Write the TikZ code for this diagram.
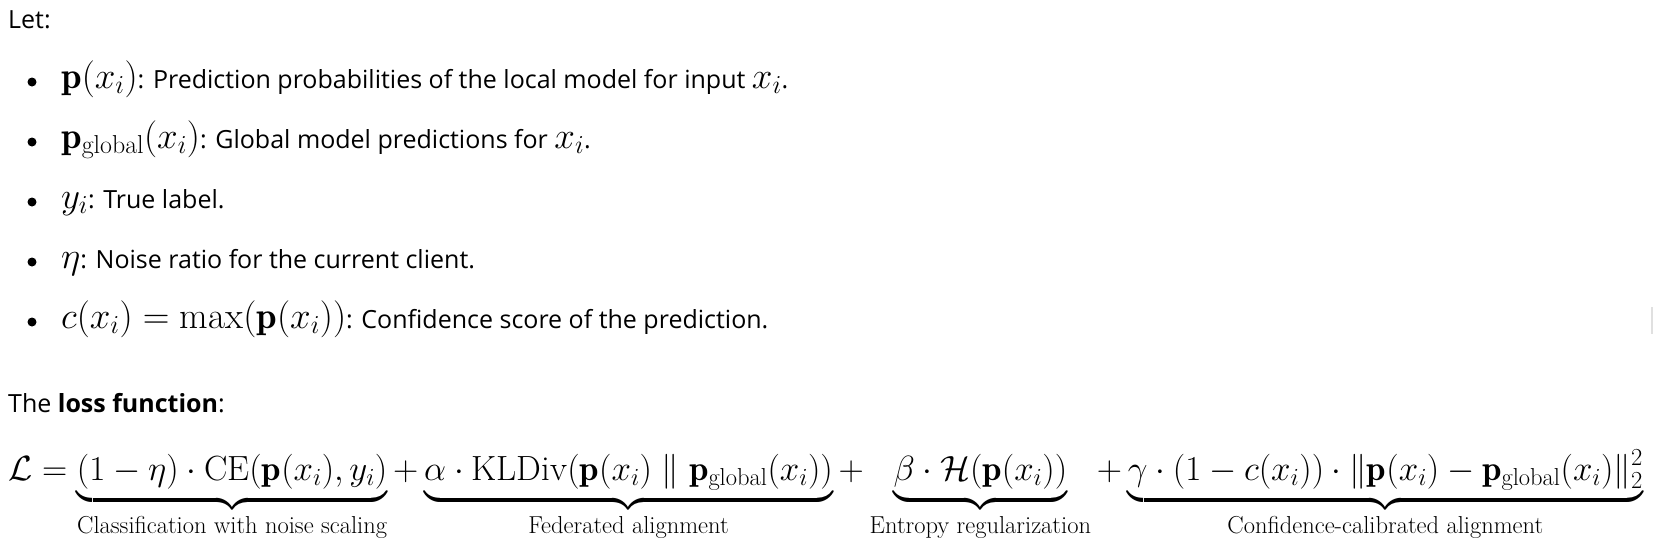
\RequirePackage{fix-cm}
\documentclass[tikz,border=0pt]{standalone}
\usepackage{amsmath, amsfonts, amssymb}
\usepackage{fontspec}
\newfontfamily\uifont{Open Sans}
\usepackage{tikz}
\usetikzlibrary{positioning}

\newcommand{\km}[1]{{\fontsize{37}{37}\selectfont$#1$}}
\newcommand{\pg}{\mathbf{p}_{\mathrm{global}}}
\newcommand{\lbl}[1]{\text{\raisebox{-7pt}{#1}}}
\newcommand{\brstrut}{\rule[-15pt]{0pt}{1pt}}

\begin{document}
\begin{tikzpicture}[
    x=1pt, y=-1pt,
    txt/.style={inner sep=0pt, anchor=base west, font=\uifont\fontsize{25}{30}\selectfont},
    dot/.style={circle, fill=black, inner sep=0pt, minimum size=9pt},
]
\useasboundingbox (0,0) rectangle (1678,541);
\node[txt] (let) at (8,28) {Let:};
\node[dot] (b1) at (32,82) {};
\node[txt] (i1) at (61,88) {\km{\mathbf{p}(x_i)}: Prediction probabilities of the local model for input \km{x_i}.};
\node[dot] (b2) at (32,142) {};
\node[txt] (i2) at (61,148) {\km{\pg(x_i)}: Global model predictions for \km{x_i}.};
\node[dot] (b3) at (32,202) {};
\node[txt] (i3) at (61,208) {\km{y_i}: True label.};
\node[dot] (b4) at (32,262) {};
\node[txt] (i4) at (61,268) {\km{\eta}: Noise ratio for the current client.};
\node[dot] (b5) at (32,322) {};
\node[txt] (i5) at (61,328) {\km{c(x_i) = \max(\mathbf{p}(x_i))}: Confidence score of the prediction.};
\node[txt] (loss) at (8,412) {The \textbf{loss function}:};
\node[inner sep=0pt, anchor=base west, font=\fontsize{35}{42}\selectfont] (eq) at (8,480) {$\displaystyle
\mathcal{L} = \underbrace{(1-\eta)\cdot\mathrm{CE}(\mathbf{p}(x_i), y_i)\brstrut}_{\lbl{Classification with noise scaling}}
+ \underbrace{\alpha\cdot\mathrm{KLDiv}(\mathbf{p}(x_i)\parallel\pg(x_i))\brstrut}_{\lbl{Federated alignment}}
+ \underbrace{\beta\cdot\mathcal{H}(\mathbf{p}(x_i))\brstrut}_{\lbl{Entropy regularization}}
+ \underbrace{\gamma\cdot(1-c(x_i))\cdot\|\mathbf{p}(x_i)-\pg(x_i)\|_2^2\brstrut}_{\lbl{Confidence-calibrated alignment}}$};
\fill[black!12] (1651,307) rectangle (1653,334);
\end{tikzpicture}
\end{document}
